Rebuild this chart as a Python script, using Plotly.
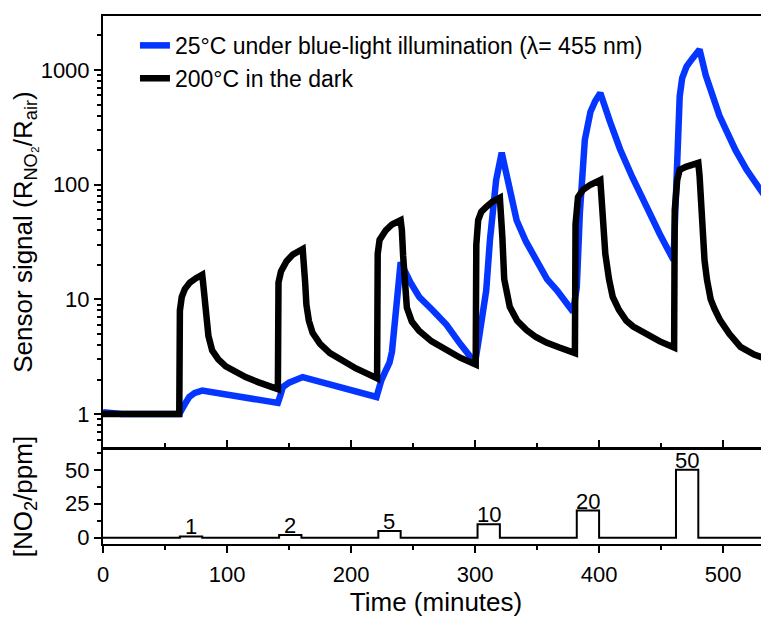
import plotly.graph_objects as go

# ---------------- data ----------------
# 200 °C in the dark
t_dark = [0, 61.5, 62, 63.5, 66, 70, 75, 80, 81, 82, 83, 85, 88, 93, 99, 107, 115, 125, 135, 141,
          141.5, 143.5, 148, 153, 161, 162, 163, 164, 166, 169, 175, 183, 193, 204, 213, 221,
          221.5, 223, 228, 233, 240, 241, 242, 243, 245, 249, 255, 265, 277, 288, 300.5,
          301, 302.5, 305, 309, 314, 320, 321, 322, 323.5, 326, 328, 334, 341.5, 349, 357.5, 368, 380.5,
          381, 383, 387, 393, 401, 402, 403, 405, 408, 411, 416, 422, 427.5, 438, 449, 460.5,
          461, 463, 465, 470, 475, 480, 481, 482, 483, 485, 487, 490, 493, 497.5, 505, 514, 525, 537, 540]
v_dark = [1.0, 1.0, 8, 10.5, 12.3, 14, 15.3, 16.4, 13, 9, 6.3, 4.8, 3.6, 3.0, 2.6, 2.3, 2.1, 1.9, 1.75, 1.65,
          14, 17.5, 21.5, 24.6, 27.5, 22, 14, 9, 6.5, 5.1, 4.1, 3.4, 2.9, 2.5, 2.25, 2.05,
          25, 33, 40, 45, 49, 40, 24, 13, 8.5, 6.4, 5.3, 4.3, 3.6, 3.1, 2.7,
          30, 49, 58, 64, 71, 77, 60, 35, 15, 10.5, 8.6, 6.5, 5.4, 4.7, 4.2, 3.8, 3.4,
          45, 78, 90, 100, 110, 80, 50, 25, 15, 10.5, 8.1, 6.5, 5.8, 5.0, 4.3, 3.8,
          60, 110, 135, 143, 150, 155, 120, 70, 40, 22, 14.8, 10, 8.3, 6.6, 5.0, 3.85, 3.3, 2.96, 2.9]

# 25 °C under blue-light illumination
t_light = [0, 5, 15, 61.5, 63, 66, 69.5, 74, 80, 141, 143, 145, 150, 155, 161,
           220.5, 222, 224.5, 228, 231, 233, 235, 237, 240, 248, 255, 266, 277, 288, 300,
           303, 306, 309, 312, 317, 321.5, 326, 333.5, 341, 350, 358, 366, 373, 379,
           382, 384.5, 388.5, 393, 397, 401, 409, 417, 427, 438, 449, 460,
           463, 465, 467, 470.5, 475, 481, 486, 492, 497, 503, 510, 519, 528, 537, 540]
v_light = [1.04, 1.03, 1.0, 1.0, 1.05, 1.22, 1.41, 1.53, 1.6, 1.25, 1.45, 1.72, 1.88, 2.0, 2.1,
           1.41, 1.7, 1.98, 2.4, 2.8, 3.5, 6, 11, 21, 14, 10.5, 8, 6, 4.1, 2.8,
           4.5, 7, 12, 33, 110, 190, 110, 49, 32, 21, 15, 12, 9.5, 7.8,
           12.7, 57, 246, 430, 540, 630, 350, 203, 115, 64, 37, 22,
           155, 590, 850, 1070, 1250, 1510, 900, 590, 400, 290, 200, 135, 95, 69, 63]

# NO2 concentration pulses (ppm)
pulse_start = [62, 142, 222, 302, 382, 462]
pulse_end = [80, 160, 240, 320, 400, 480]
pulse_conc = [1, 2, 5, 10, 20, 50]
pulse_labels = ["1", "2", "5", "10", "20", "50"]

# step trace built from the pulse lists
t_conc, c_conc = [0], [0]
for s, e, c in zip(pulse_start, pulse_end, pulse_conc):
    t_conc += [s, s, e, e]
    c_conc += [0, c, c, 0]
t_conc.append(540)
c_conc.append(0)

# minor tick positions on the log axis (2..9 x decade)
log_minor = [m * 10 ** d for d in range(-1, 4) for m in range(2, 10)]

BLUE = "#0536ff"
FONT = "Liberation Sans, Arial, sans-serif"

fig = go.Figure()
fig.add_trace(go.Scatter(x=t_light, y=v_light, mode="lines",
                         line=dict(color=BLUE, width=6.5),
                         name="25°C under blue-light illumination (λ= 455 nm)",
                         xaxis="x", yaxis="y"))
fig.add_trace(go.Scatter(x=t_dark, y=v_dark, mode="lines",
                         line=dict(color="black", width=6.5),
                         name="200°C in the dark",
                         xaxis="x", yaxis="y"))
fig.add_trace(go.Scatter(x=t_conc, y=c_conc, mode="lines",
                         line=dict(color="black", width=2),
                         showlegend=False, xaxis="x2", yaxis="y2"))

for s, e, c, lab in zip(pulse_start, pulse_end, pulse_conc, pulse_labels):
    fig.add_annotation(x=(s + e) / 2, y=c, xref="x2", yref="y2", text=lab,
                       showarrow=False, yanchor="bottom", yshift=-5,
                       font=dict(size=22, color="black", family=FONT))

axis_common = dict(showline=True, linecolor="black", linewidth=2, showgrid=False,
                   zeroline=False, tickcolor="black", tickwidth=2, automargin=False,
                   tickfont=dict(size=22, color="black", family=FONT))

# the page body adds an 8 px offset, so the figure is 761 x 610
fig.update_layout(
    width=761, height=610,
    margin=dict(l=95, r=0, t=8, b=74),
    paper_bgcolor="white", plot_bgcolor="white",
    font=dict(family=FONT, color="black"),
    showlegend=True,
    legend=dict(x=0.048, y=0.985, xanchor="left", yanchor="top",
                bgcolor="rgba(0,0,0,0)", font=dict(size=23, family=FONT, color="black"),
                tracegroupgap=0),
    xaxis=dict(axis_common, domain=[0, 1], range=[0, 537], anchor="y",
               mirror=True, ticks="inside", ticklen=8, dtick=100, tick0=0,
               showticklabels=False,
               minor=dict(ticks="inside", ticklen=5, dtick=50, tick0=0,
                          tickcolor="black", tickwidth=2)),
    yaxis=dict(axis_common, domain=[0.1818, 1], type="log", range=[-0.296, 3.471],
               anchor="x", ticks="outside", ticklen=7, dtick=1,
               minor=dict(ticks="outside", ticklen=4, tickmode="array", tickvals=log_minor,
                          tickcolor="black", tickwidth=1.5),
               title=dict(text="Sensor signal (R<sub>NO₂</sub>/R<sub>air</sub>)",
                          font=dict(size=26, family=FONT, color="black"), standoff=6)),
    xaxis2=dict(axis_common, domain=[0, 1], range=[0, 537], anchor="y2",
                mirror=True, ticks="outside", ticklen=7, dtick=100, tick0=0,
                ticklabelstandoff=3,
                minor=dict(ticks="outside", ticklen=4, dtick=50, tick0=0,
                           tickcolor="black", tickwidth=2),
                title=dict(text="Time (minutes)",
                           font=dict(size=26, family=FONT, color="black"), standoff=6)),
    yaxis2=dict(axis_common, domain=[0, 0.1799], range=[-4.6, 65.3], anchor="x2",
                ticks="outside", ticklen=7, dtick=25, tick0=0,
                minor=dict(ticks="outside", ticklen=4, dtick=12.5, tick0=0,
                           tickcolor="black", tickwidth=1.5),
                title=dict(text="[NO<sub>2</sub>/ppm]",
                           font=dict(size=26, family=FONT, color="black"), standoff=30)),
)

fig.write_html("out.html")
